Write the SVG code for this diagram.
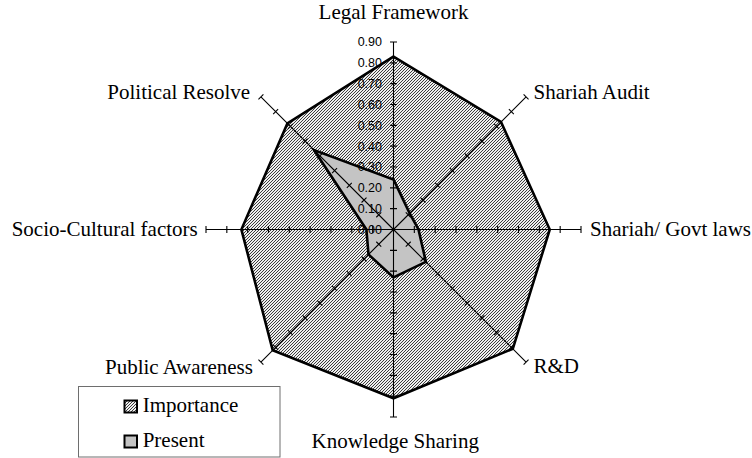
<svg xmlns="http://www.w3.org/2000/svg" xmlns:xlink="http://www.w3.org/1999/xlink" width="752" height="458" viewBox="0 0 752 458">
<style>
.cat{font-family:"Liberation Serif","Times New Roman",serif;font-size:21px;fill:#000}
.tick{font-family:"Liberation Sans",Arial,sans-serif;font-size:12.5px;fill:#000;text-anchor:end}
.series{stroke:#000;stroke-width:2.6;stroke-linejoin:miter}
</style>
<defs>
<pattern id="hatch" patternUnits="userSpaceOnUse" width="3" height="3">
<rect width="3" height="3" fill="#eeeeee"/>
<path d="M-1,1 L1,-1 M0,3 L3,0 M2,4 L4,2" stroke="#333" stroke-width="0.95"/>
</pattern>
<path id="axis" d="M0,0 V-187.5 M-3.5,-20.83 H3.5 M-3.5,-41.67 H3.5 M-3.5,-62.5 H3.5 M-3.5,-83.33 H3.5 M-3.5,-104.17 H3.5 M-3.5,-125 H3.5 M-3.5,-145.83 H3.5 M-3.5,-166.67 H3.5 M-3.5,-187.5 H3.5" fill="none" stroke="#000" stroke-width="1.1"/>
</defs>
<rect width="752" height="458" fill="#fff"/>
<g id="importance">
<polygon class="series" fill="url(#hatch)" points="393.5,56.6 501,122 549.75,229.5 512.8,348.8 393.5,398.25 272.7,350.3 241.4,229.5 287.4,123.4"/>
</g>
<g id="present">
<polygon class="series" fill="#c4c4c4" points="393.5,179.5 409.7,213.3 418.5,229.5 425.9,261.9 393.5,277.4 368.5,254.5 366.4,229.5 314,150"/>
</g>
<g id="connectors">
<use xlink:href="#axis" transform="translate(393.5,229.5)"/>
<use xlink:href="#axis" transform="translate(393.5,229.5) rotate(45)"/>
<use xlink:href="#axis" transform="translate(393.5,229.5) rotate(90)"/>
<use xlink:href="#axis" transform="translate(393.5,229.5) rotate(135)"/>
<use xlink:href="#axis" transform="translate(393.5,229.5) rotate(180)"/>
<use xlink:href="#axis" transform="translate(393.5,229.5) rotate(225)"/>
<use xlink:href="#axis" transform="translate(393.5,229.5) rotate(270)"/>
<use xlink:href="#axis" transform="translate(393.5,229.5) rotate(315)"/>
</g>
<g id="scale">
<text class="tick" x="382" y="46">0.90</text>
<text class="tick" x="382" y="67">0.80</text>
<text class="tick" x="382" y="88">0.70</text>
<text class="tick" x="382" y="108.5">0.60</text>
<text class="tick" x="382" y="129.5">0.50</text>
<text class="tick" x="382" y="150.5">0.40</text>
<text class="tick" x="382" y="171">0.30</text>
<text class="tick" x="382" y="192">0.20</text>
<text class="tick" x="382" y="213">0.10</text>
<text class="tick" x="382" y="233.5">0.00</text>
</g>
<g id="node-legal"><text class="cat" x="393.5" y="19" text-anchor="middle">Legal Framework</text></g>
<g id="node-audit"><text class="cat" x="533.5" y="98.5">Shariah Audit</text></g>
<g id="node-govt"><text class="cat" x="590" y="236">Shariah/ Govt laws</text></g>
<g id="node-rd"><text class="cat" x="533.5" y="373">R&amp;D</text></g>
<g id="node-knowledge"><text class="cat" x="311.5" y="448">Knowledge Sharing</text></g>
<g id="node-public"><text class="cat" x="105" y="374">Public Awareness</text></g>
<g id="node-socio"><text class="cat" x="11.7" y="236">Socio-Cultural factors</text></g>
<g id="node-political"><text class="cat" x="107.3" y="98.5">Political Resolve</text></g>
<g id="legend">
<rect x="78.5" y="386.5" width="201.5" height="70.5" fill="#fff" stroke="#6e6e6e" stroke-width="1"/>
<rect x="124.5" y="400.5" width="12.5" height="12" fill="url(#hatch)" stroke="#000" stroke-width="2"/>
<text class="cat" x="142.7" y="411.7">Importance</text>
<rect x="124.5" y="435.5" width="12.5" height="12" fill="#c4c4c4" stroke="#000" stroke-width="2"/>
<text class="cat" x="142.7" y="447.3">Present</text>
</g>
</svg>
